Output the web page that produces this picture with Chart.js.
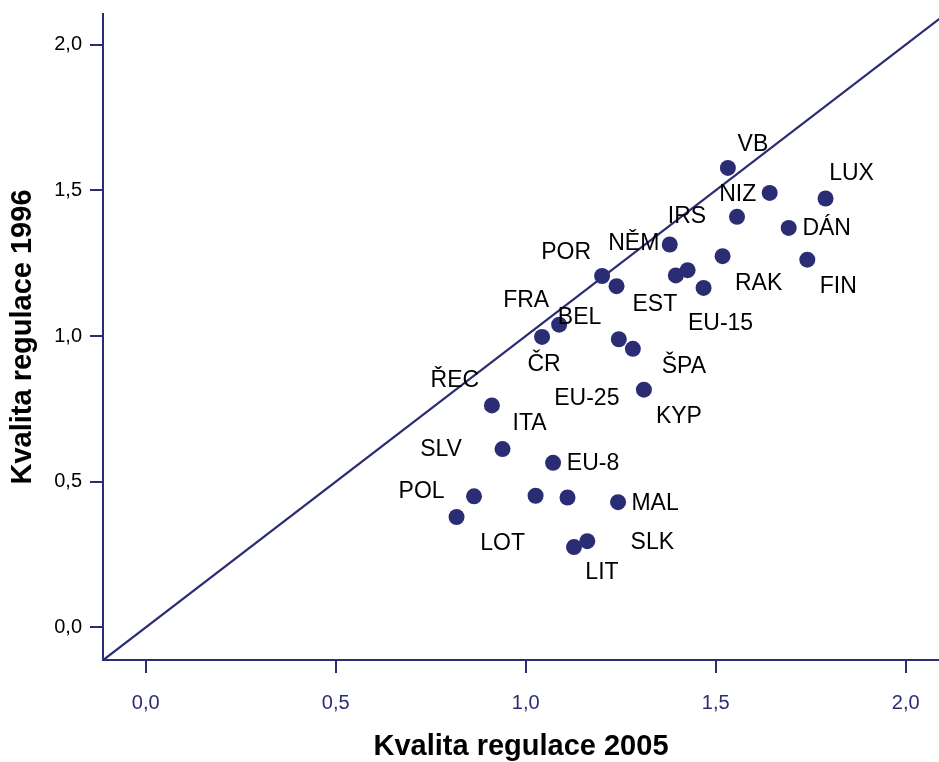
<!DOCTYPE html>
<html>
<head>
<meta charset="utf-8">
<script src="https://cdn.jsdelivr.net/npm/chart.js@4.4.1/dist/chart.umd.min.js"></script>
<style>
html, body { margin: 0; padding: 0; background: #fff; }
#obal { width: 939px; height: 762px; }
</style>
</head>
<body>
<div id="obal"><canvas id="myChart" width="939" height="762"></canvas></div>
<script>

// data
const zeme = ['VB','LUX','NIZ','IRS','DÁN','FIN','NĚM','RAK','ŠVÉ','EST','EU-15',
  'POR','BEL','FRA','ČR','EU-25','ŠPA','KYP','ŘEC',
  'ITA','EU-8','SLV','LOT','MAĎ','MAL','POL','SLK','LIT']
const kvalita2005 = [1.532,1.789,1.642,1.556,1.692,1.741,1.379,1.518,1.426,1.395,1.468,
  1.201,1.239,1.088,1.043,1.245,1.282,1.311,0.911,
  0.939,1.072,0.864,1.026,1.110,1.243,0.818,1.162,1.127]
const kvalita1996 = [1.577,1.472,1.491,1.409,1.371,1.262,1.314,1.274,1.226,1.208,1.165,
  1.206,1.171,1.039,0.997,0.989,0.956,0.816,0.762,
  0.612,0.565,0.450,0.452,0.446,0.430,0.379,0.296,0.276]
const ticksX = [0, 0.5, 1, 1.5, 2]
const ticksY = [0, 0.5, 1, 1.5, 2]
const rozsahX = [-0.1123, 2.0875]
const rozsahY = [-0.1116, 2.105]
const diagonala = [-0.2, 2.3]

// posun popisku od bodu (px), null = popisek skryty
const posuny = {
  'VB':[25,-23], 'LUX':[26,-25], 'NIZ':[-32,2], 'IRS':[-50,0], 'DÁN':[38,1],
  'FIN':[31,27], 'NĚM':[-36,-1], 'RAK':[36,27], 'ŠVÉ':null, 'EST':[-21,29],
  'EU-15':[17,36], 'POR':[-36,-23], 'BEL':[-37,31], 'FRA':[-33,-24], 'ČR':[2,28],
  'EU-25':[-32,59], 'ŠPA':[51,18], 'KYP':[35,27], 'ŘEC':[-37,-25], 'ITA':[27,-25],
  'EU-8':[40,1], 'SLV':[-33,-47], 'LOT':[-33,48], 'MAĎ':null, 'MAL':[37,1],
  'POL':[-35,-25], 'SLK':[65,1], 'LIT':[28,26]
}

const modra = '#2b2d74'
const pismo = "'Liberation Sans', Arial, sans-serif"

grafico()

function grafico(){

const popisky = {
  id: 'popisky',
  afterDatasetsDraw(chart) {
    const ctx = chart.ctx
    const meta = chart.getDatasetMeta(1)
    ctx.save()
    ctx.font = '23px ' + pismo
    ctx.fillStyle = '#000'
    ctx.textAlign = 'center'
    ctx.textBaseline = 'middle'
    meta.data.forEach((bod, i) => {
      const p = posuny[zeme[i]]
      if (!p) return
      ctx.fillText(zeme[i], bod.x + p[0], bod.y + p[1])
    })
    ctx.restore()
  }
}

const carka = v => v.toFixed(1).replace('.', ',')

const data = {
  datasets: [{
    type: 'line',
    data: diagonala.map(v => ({x: v, y: v})),
    borderColor: modra,
    borderWidth: 2.2,
    pointRadius: 0,
    fill: false
  }, {
    type: 'scatter',
    data: zeme.map((z, i) => ({x: kvalita2005[i], y: kvalita1996[i]})),
    backgroundColor: modra,
    borderWidth: 0,
    pointRadius: 8,
    pointHoverRadius: 8
  }]
}

const config = {
  data: data,
  plugins: [popisky],
  options: {
    responsive: false,
    animation: false,
    devicePixelRatio: 1,
    events: [],
    layout: { autoPadding: false, padding: { top: 14, left: 0, right: 0, bottom: 0 } },
    plugins: { legend: { display: false }, tooltip: { enabled: false } },
    scales: {
      x: {
        type: 'linear',
        position: 'bottom',
        min: rozsahX[0],
        max: rozsahX[1],
        afterBuildTicks: s => { s.ticks = ticksX.map(v => ({value: v})) },
        afterFit: s => { s.height = 102; s.paddingLeft = 0; s.paddingRight = 0 },
        border: { display: true, color: modra, width: 2 },
        grid: { drawOnChartArea: false, drawTicks: true, tickLength: 13, color: modra, lineWidth: 2 },
        ticks: {
          callback: carka,
          color: modra,
          font: { family: pismo, size: 20 },
          padding: 18,
          maxRotation: 0
        },
        title: {
          display: true,
          text: 'Kvalita regulace 2005',
          color: '#000',
          font: { family: pismo, size: 29, weight: 'bold' },
          padding: { top: 0, bottom: -2 }
        }
      },
      y: {
        type: 'linear',
        position: 'left',
        min: rozsahY[0],
        max: rozsahY[1],
        afterBuildTicks: s => { s.ticks = ticksY.map(v => ({value: v})) },
        afterFit: s => { s.width = 103; s.paddingTop = 0; s.paddingBottom = 0 },
        border: { display: true, color: modra, width: 2 },
        grid: { drawOnChartArea: false, drawTicks: true, tickLength: 13, color: modra, lineWidth: 2 },
        ticks: {
          callback: carka,
          color: '#000',
          font: { family: pismo, size: 20 },
          padding: 8
        },
        title: {
          display: true,
          text: 'Kvalita regulace 1996',
          color: '#000',
          font: { family: pismo, size: 29, weight: 'bold' },
          padding: { top: 6, bottom: 0 }
        }
      }
    }
  }
}

const myChart = new Chart(document.getElementById('myChart'), config)

}
</script>
</body>
</html>
